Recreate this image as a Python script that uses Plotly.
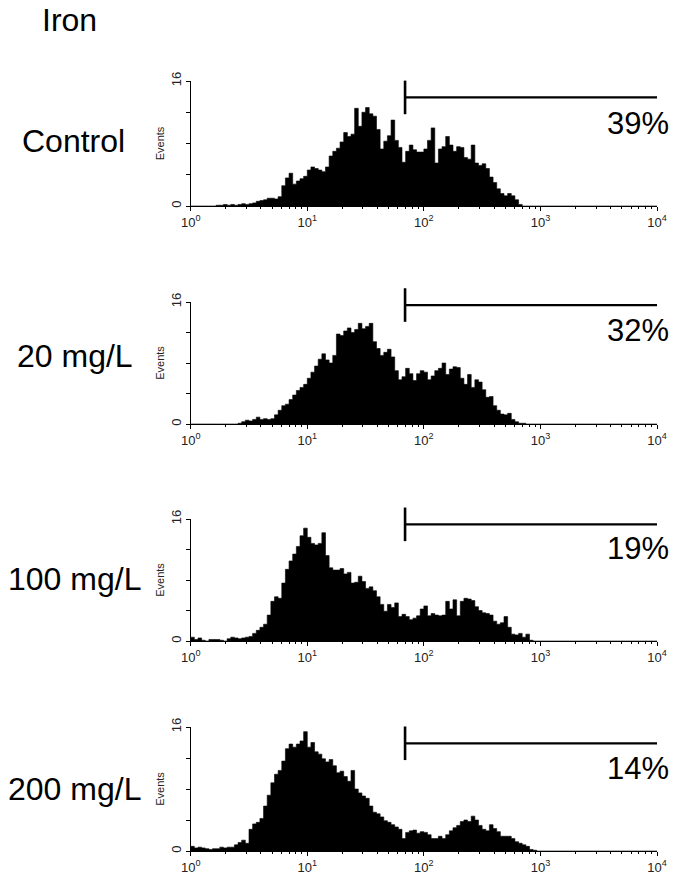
import numpy as np
import plotly.graph_objects as go

# ---- data (events per channel, 32 channels per decade, decades 10^0..10^4) ----
control = [0, 0, 0, 0, 0, 0, 0, 0.1, 0.1, 0.2, 0.1, 0.2, 0.1, 0.2, 0.3, 0.2,
           0.3, 0.4, 0.6, 0.7, 0.8, 1.0, 1.0, 0.9, 1.2, 2.6, 3.6, 4.2, 2.8, 3.2, 3.5, 3.8,
           4.6, 5.0, 4.8, 4.6, 4.4, 5.0, 6.4, 7.0, 7.4, 8.2, 9.4, 8.9, 9.2, 12.5, 10.2, 12.0,
           12.6, 11.8, 11.5, 9.8, 7.3, 8.3, 9.0, 11.0, 8.4, 7.5, 5.6, 7.0, 7.8, 7.2, 6.9, 6.9,
           7.3, 8.4, 10.0, 5.5, 7.3, 7.6, 8.9, 7.8, 7.0, 7.6, 7.5, 6.2, 6.0, 7.8, 5.5, 5.2,
           5.4, 4.8, 3.7, 3.0, 2.2, 1.6, 1.3, 1.6, 1.3, 0.8, 0.2, 0, 0, 0, 0, 0]
mg20 = [0, 0, 0, 0, 0, 0, 0, 0, 0, 0, 0, 0, 0, 0.1, 0.3, 0.5,
        0.4, 0.6, 0.9, 0.6, 0.7, 0.6, 0.7, 1.2, 1.8, 2.4, 2.6, 3.2, 3.8, 4.4, 4.8, 5.2,
        6.0, 6.8, 7.6, 8.5, 9.2, 8.4, 8.0, 9.0, 11.8, 11.6, 12.2, 12.6, 12.0, 12.4, 13.2, 12.5,
        12.8, 13.2, 10.8, 9.9, 9.0, 9.4, 9.8, 8.8, 7.0, 5.8, 6.2, 7.3, 6.6, 5.7, 6.6, 7.0,
        6.8, 5.8, 6.3, 7.0, 7.3, 8.0, 6.5, 7.2, 7.5, 7.4, 6.0, 5.2, 6.5, 4.8, 5.8, 5.5,
        4.5, 3.5, 3.6, 2.4, 1.8, 1.3, 1.2, 1.4, 0.6, 0.3, 0.1, 0.1, 0, 0, 0, 0]
mg100 = [0.5, 0.2, 0.4, 0.1, 0, 0.2, 0.2, 0.2, 0.1, 0, 0.3, 0.5, 0.4, 0.3, 0.4, 0.5,
         0.6, 1.0, 1.4, 1.8, 2.2, 3.4, 5.2, 5.8, 5.6, 7.6, 9.4, 10.5, 11.4, 12.4, 13.8, 14.8,
         13.6, 12.8, 12.6, 12.8, 14.2, 11.2, 9.6, 9.3, 9.3, 9.5, 8.8, 9.0, 7.6, 7.7, 8.5, 7.8,
         6.9, 7.1, 6.6, 5.8, 4.8, 3.9, 4.8, 4.4, 5.0, 3.2, 3.5, 3.2, 2.8, 3.0, 3.3, 4.2,
         4.6, 3.3, 3.6, 3.4, 3.3, 3.4, 5.2, 4.2, 5.4, 3.3, 5.2, 5.6, 5.5, 5.3, 4.5, 4.0,
         3.7, 3.6, 3.4, 2.6, 2.2, 2.4, 3.2, 1.8, 0.9, 0.8, 1.0, 0.5, 0.9, 0.1, 0, 0]
mg200 = [0.6, 0.4, 0.5, 0.4, 0.3, 0.2, 0.3, 0.3, 0.5, 0.4, 0.5, 0.5, 0.8, 1.1, 1.4, 1.0,
         2.8, 3.5, 3.7, 4.2, 5.8, 7.2, 8.8, 9.9, 10.4, 11.6, 13.2, 13.8, 13.4, 13.8, 14.2, 15.4,
         13.4, 14.0, 12.8, 12.5, 11.9, 11.5, 11.8, 11.0, 10.1, 10.3, 9.6, 9.0, 10.4, 8.0, 7.5, 7.1,
         6.8, 5.8, 5.0, 4.8, 4.4, 3.9, 3.7, 3.4, 3.1, 2.8, 1.6, 2.4, 2.6, 2.7, 2.3, 2.5,
         2.4, 2.1, 1.6, 1.6, 1.9, 1.6, 2.1, 2.6, 3.0, 3.3, 3.8, 4.0, 3.8, 4.5, 4.0, 3.3,
         2.8, 2.6, 3.4, 2.9, 2.5, 1.9, 1.9, 1.9, 1.6, 1.2, 1.0, 0.8, 0.6, 0.2, 0.1, 0]

series = [control, mg20, mg100, mg200]
labels = ["Control", "20 mg/L", "100 mg/L", "200 mg/L"]
percents = ["39%", "32%", "19%", "14%"]
gate_y = [13.9, 15.6, 15.3, 13.9]
pct_y = [10.5, 12.2, 12.1, 10.7]
gate_start = 69
gate_end = 10000
channels_per_decade = 32
n_channels = 128
y_max = 16
title = "Iron"
tick_vals = [1, 10, 100, 1000, 10000]
tick_text = ["10<sup>0</sup>", "10<sup>1</sup>", "10<sup>2</sup>", "10<sup>3</sup>", "10<sup>4</sup>"]

# ---- layout geometry (pixels) ----
W, H = 698, 892
x_left, x_right = 190.7, 657
panel_px = [(81, 206), (302, 424), (519, 641), (727, 851)]
label_xshift = [20, 15, 6, 6]
label_yshift = [3, 7, 1, 0]

fig = go.Figure()
edges = 10 ** (np.arange(n_channels + 1) / channels_per_decade)

FONT = "Liberation Sans, Arial, sans-serif"
layout = dict(width=W, height=H,
              margin=dict(l=0, r=0, t=0, b=0, pad=0, autoexpand=False),
              autosize=False,
              paper_bgcolor="white", plot_bgcolor="white", showlegend=False,
              font=dict(family=FONT, color="black"))
annotations = []

for k, vals in enumerate(series):
    ax = "" if k == 0 else str(k + 1)
    xa, ya = "x" + ax, "y" + ax
    counts = list(vals) + [0] * (n_channels - len(vals))
    yy = counts + [counts[-1]]
    fig.add_trace(go.Scatter(x=edges, y=yy, mode="lines", line_shape="hv",
                             fill="tozeroy", fillcolor="black",
                             line=dict(color="black", width=0.6),
                             xaxis=xa, yaxis=ya, hoverinfo="skip"))
    # gate bar
    fig.add_trace(go.Scatter(x=[gate_start, gate_end], y=[gate_y[k], gate_y[k]],
                             mode="lines", line=dict(color="black", width=2.2),
                             xaxis=xa, yaxis=ya, hoverinfo="skip"))
    fig.add_trace(go.Scatter(x=[gate_start], y=[gate_y[k]], mode="markers",
                             marker=dict(symbol="line-ns", size=24,
                                         line=dict(color="black", width=2.6)),
                             cliponaxis=False, xaxis=xa, yaxis=ya, hoverinfo="skip"))
    top, bot = panel_px[k]
    layout["xaxis" + ax] = dict(
        type="log", range=[0, 4], domain=[x_left / W, x_right / W], anchor=ya,
        automargin=False,
        showline=True, linecolor="black", linewidth=1, showgrid=False, zeroline=False,
        ticks="outside", ticklen=4, tickcolor="black", tickwidth=1,
        tickvals=tick_vals, ticktext=tick_text,
        tickfont=dict(size=13, color="#222", family=FONT),
        minor=dict(ticks="outside", ticklen=2, tickcolor="black", dtick="D1", showgrid=False))
    layout["yaxis" + ax] = dict(
        range=[0, y_max], domain=[1 - bot / H, 1 - top / H], anchor=xa,
        automargin=False,
        showline=True, linecolor="black", linewidth=1, showgrid=False, zeroline=False,
        ticks="outside", ticklen=4, tickcolor="black", tickwidth=1,
        tickvals=[0, y_max], ticktext=["0", str(y_max)], tickangle=-90,
        tickfont=dict(size=13, color="#222", family=FONT),
        minor=dict(ticks="outside", ticklen=4, tickcolor="black", dtick=4, showgrid=False),
        title=dict(text="Events", font=dict(size=11, color="#222", family=FONT), standoff=1))
    annotations.append(dict(text=percents[k], x=4, y=pct_y[k], xref=xa, yref=ya,
                            xanchor="right", yanchor="middle", xshift=14, showarrow=False,
                            font=dict(size=31, family=FONT, color="black")))
    annotations.append(dict(text=labels[k], x=0.0, y=1 - ((top + bot) / 2) / H,
                            xref="paper", yref="paper", xanchor="left", yanchor="middle",
                            xshift=label_xshift[k], yshift=label_yshift[k],
                            showarrow=False,
                            font=dict(size=32, family=FONT, color="black")))

annotations.append(dict(text=title, x=0, y=1, xref="paper", yref="paper",
                        xanchor="left", yanchor="top", xshift=40, yshift=0,
                        showarrow=False, font=dict(size=32, family=FONT, color="black")))
layout["annotations"] = annotations
fig.update_layout(**layout)
fig.write_html("out.html", config={"displayModeBar": False},
               post_script="document.body.style.margin='0';document.body.style.padding='0';")
